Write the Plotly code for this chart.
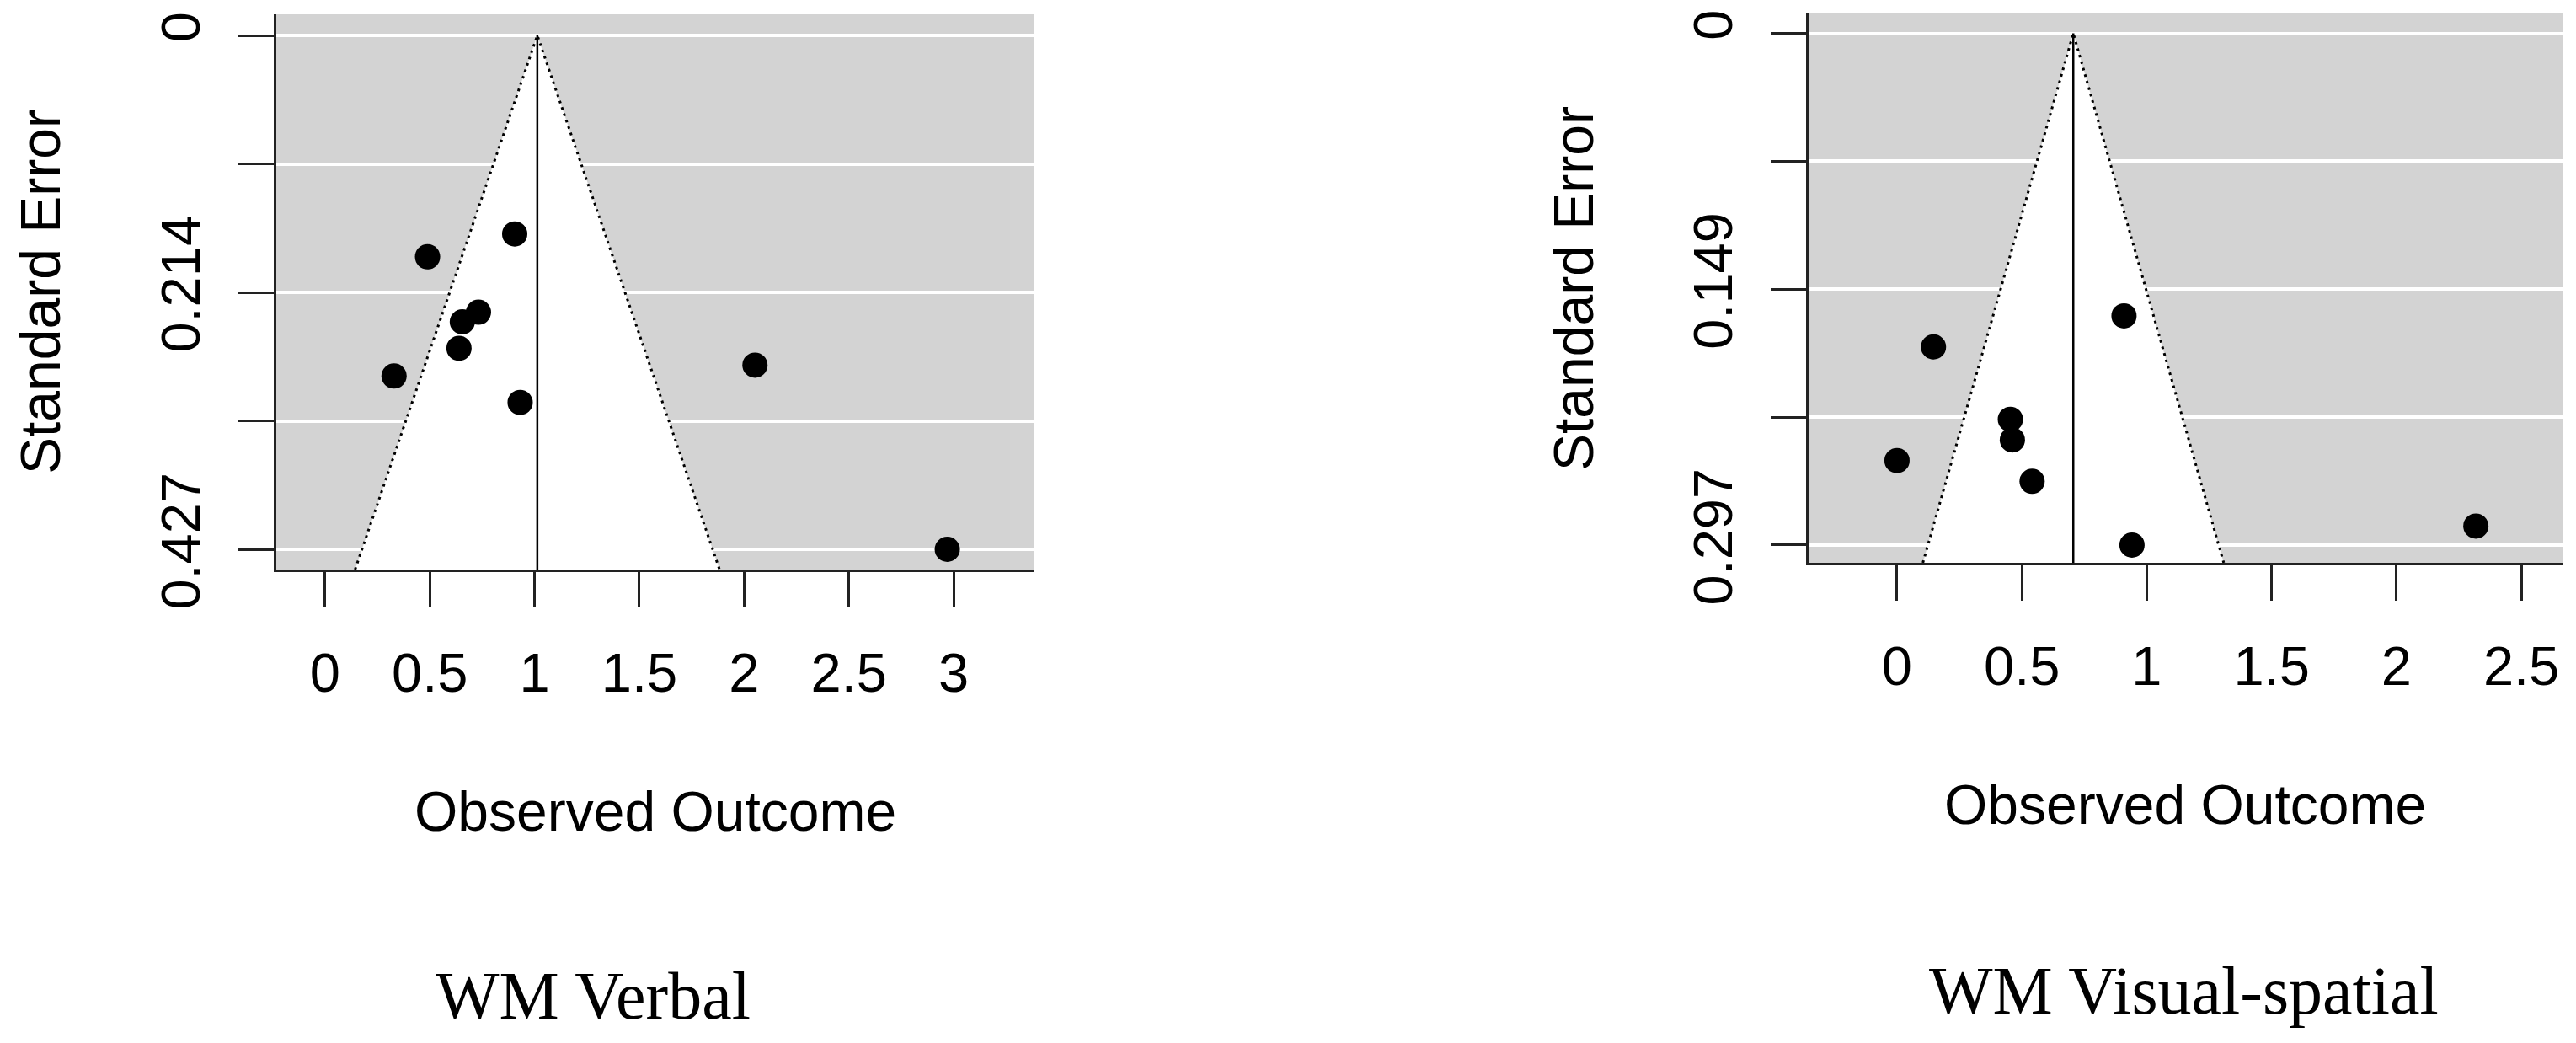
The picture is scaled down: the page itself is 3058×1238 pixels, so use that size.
import plotly.graph_objects as go

# funnel plot data
verbal_est = [0.905, 0.489, 0.732, 0.655, 0.639, 0.329, 0.931, 2.052, 2.970]
verbal_se = [0.165, 0.184, 0.230, 0.238, 0.260, 0.283, 0.305, 0.274, 0.427]
verbal_center = 1.013
verbal_yticks = [0, 0.10675, 0.2135, 0.32025, 0.427]
verbal_ylabels = ["0", "", "0.214", "", "0.427"]
verbal_xticks = [0, 0.5, 1, 1.5, 2, 2.5, 3]

spatial_est = [0.909, 0.146, 0.454, 0.462, 0.0, 0.541, 0.941, 2.318]
spatial_se = [0.164, 0.182, 0.224, 0.236, 0.248, 0.260, 0.297, 0.286]
spatial_center = 0.706
spatial_yticks = [0, 0.07425, 0.1485, 0.22275, 0.297]
spatial_ylabels = ["0", "", "0.149", "", "0.297"]
spatial_xticks = [0, 0.5, 1, 1.5, 2, 2.5]

W, H = 3058, 1238
OFF = 8  # default body margin of the html page
SANS = "Liberation Sans, Arial, sans-serif"
SERIF = "Liberation Serif, Times New Roman, serif"


def fx(px):
    return (px - OFF) / W


def fy(py):
    return 1 - (py - OFF) / H


def add_funnel(fig, est, se, center, ybottom, xa, ya):
    # white pseudo-confidence region
    xs = [center - 1.96 * ybottom, center, center + 1.96 * ybottom]
    ys = [ybottom, 0, ybottom]
    fig.add_trace(go.Scatter(x=xs, y=ys, mode="lines", fill="toself", fillcolor="white",
                             line=dict(width=0), xaxis=xa, yaxis=ya, hoverinfo="skip"))
    fig.add_trace(go.Scatter(x=xs, y=ys, mode="lines",
                             line=dict(color="black", width=3, dash="3px,5px"),
                             xaxis=xa, yaxis=ya, hoverinfo="skip"))
    fig.add_trace(go.Scatter(x=[center, center], y=[0, ybottom], mode="lines",
                             line=dict(color="black", width=2.5), xaxis=xa, yaxis=ya))
    fig.add_trace(go.Scatter(x=est, y=se, mode="markers",
                             marker=dict(color="black", size=30), xaxis=xa, yaxis=ya))


fig = go.Figure()
add_funnel(fig, verbal_est, verbal_se, verbal_center, 0.4438, "x", "y")
add_funnel(fig, spatial_est, spatial_se, spatial_center, 0.3073, "x2", "y2")

axis_common = dict(
    showline=True, linecolor="#222", linewidth=3, mirror=False,
    ticks="outside", ticklen=42, tickwidth=3, tickcolor="#222",
    tickfont=dict(family=SANS, size=65, color="black"),
    zeroline=False, automargin=False,
)

fig.update_layout(
    width=W, height=H,
    margin=dict(l=0, r=0, t=0, b=0),
    paper_bgcolor="white",
    plot_bgcolor="#d3d3d3",
    showlegend=False,
    xaxis=dict(domain=[fx(328), fx(1228)], range=[-0.233, 3.386], tickvals=verbal_xticks,
               ticktext=[f"{v:g}" for v in verbal_xticks], showgrid=False,
               anchor="y", ticklabelstandoff=22, **axis_common),
    yaxis=dict(domain=[fy(676), fy(17)], range=[0.4438, -0.0175],
               tickvals=verbal_yticks, ticktext=verbal_ylabels, tickangle=-90,
               showgrid=True, gridcolor="white", gridwidth=4,
               anchor="x", ticklabelstandoff=20, **axis_common),
    xaxis2=dict(domain=[fx(2147), fx(3042)], range=[-0.354, 2.665], tickvals=spatial_xticks,
                ticktext=[f"{v:g}" for v in spatial_xticks], showgrid=False,
                anchor="y2", ticklabelstandoff=22, **axis_common),
    yaxis2=dict(domain=[fy(668), fy(15)], range=[0.3073, -0.012],
                tickvals=spatial_yticks, ticktext=spatial_ylabels, tickangle=-90,
                showgrid=True, gridcolor="white", gridwidth=4,
                anchor="x2", ticklabelstandoff=20, **axis_common),
)

# axis titles and panel captions
notes = [
    ("Standard Error", 48, 347, -90, SANS, 66),
    ("Standard Error", 1868, 343, -90, SANS, 66),
    ("Observed Outcome", 778, 963, 0, SANS, 66),
    ("Observed Outcome", 2594, 955, 0, SANS, 66),
    ("WM Verbal", 704, 1182, 0, SERIF, 80),
    ("WM Visual-spatial", 2592, 1176, 0, SERIF, 80),
]
for text, px, py, ang, fam, size in notes:
    fig.add_annotation(text=text, x=fx(px), y=fy(py), xref="paper", yref="paper",
                       xanchor="center", yanchor="middle", textangle=ang, showarrow=False,
                       font=dict(family=fam, size=size, color="black"))

fig.write_html("out.html")
